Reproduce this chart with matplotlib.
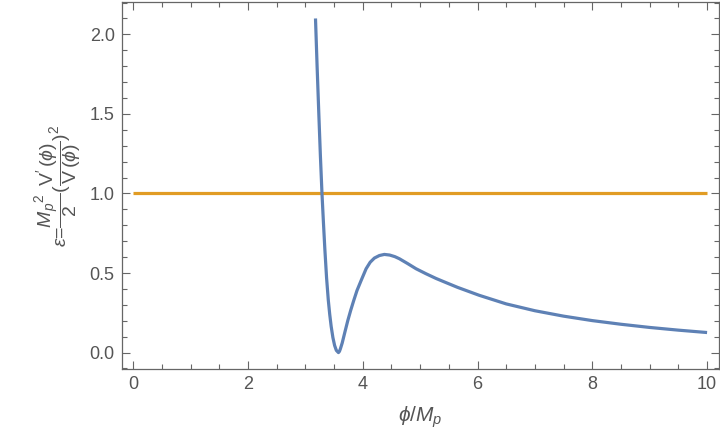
import numpy as np
import matplotlib.pyplot as plt
from matplotlib.ticker import MultipleLocator

plt.rcParams["font.family"] = ["Liberation Sans", "DejaVu Sans"]
plt.rcParams["mathtext.fontset"] = "custom"
plt.rcParams["mathtext.rm"] = "Liberation Sans"
plt.rcParams["mathtext.it"] = "Liberation Sans:italic"
plt.rcParams["mathtext.fallback"] = "stixsans"

# slow-roll parameter epsilon
phi = [3.177, 3.205, 3.235, 3.262, 3.290, 3.315, 3.340, 3.370, 3.400, 3.425,
       3.450, 3.480, 3.510, 3.540, 3.577, 3.595, 3.612, 3.642, 3.690, 3.739,
       3.790, 3.843, 3.900, 3.972, 4.059, 4.130, 4.203, 4.290, 4.377, 4.470,
       4.560, 4.638, 4.780, 4.929, 5.100, 5.277, 5.450, 5.652, 6.03, 6.5, 7.0,
       7.5, 8.0, 8.5, 9.0, 9.5, 10.0]
eps = [2.100, 1.800, 1.500, 1.240, 1.000, 0.820, 0.650, 0.470, 0.330, 0.240,
       0.165, 0.095, 0.045, 0.014, 0.0, 0.008, 0.025, 0.060, 0.130, 0.200,
       0.265, 0.327, 0.390, 0.453, 0.527, 0.568, 0.594, 0.610, 0.617, 0.613,
       0.603, 0.590, 0.560, 0.527, 0.496, 0.466, 0.440, 0.410, 0.360, 0.306,
       0.263, 0.229, 0.201, 0.178, 0.158, 0.141, 0.126]
line_x = [0, 10]
line_y = [1, 1]

gray = "#666666"

fig = plt.figure(figsize=(7.2, 4.42), dpi=100)
ax = fig.add_axes([0.169, 0.1645, 0.829, 0.8315])

ax.plot(phi, eps, color="#5E81B5", lw=2.3, solid_capstyle="butt",
        solid_joinstyle="round", zorder=3)
ax.plot(line_x, line_y, color="#E19C24", lw=2.3, solid_capstyle="butt", zorder=2)

ax.set_xlim(-0.2, 10.2)
ax.set_ylim(-0.105, 2.205)
ax.xaxis.set_major_locator(MultipleLocator(2))
ax.xaxis.set_minor_locator(MultipleLocator(0.5))
ax.yaxis.set_major_locator(MultipleLocator(0.5))
ax.yaxis.set_minor_locator(MultipleLocator(0.1))
ax.yaxis.set_major_formatter(plt.FormatStrFormatter("%.1f"))

ax.tick_params(which="both", direction="in", top=True, right=True,
               color=gray, labelcolor="#555555", labelsize=13, width=0.8)
ax.tick_params(which="major", length=5.8, pad=5)
ax.tick_params(which="minor", length=3.5)
for s in ax.spines.values():
    s.set_color(gray)
    s.set_linewidth(0.9)

ax.set_xlabel(r"$\phi/M_p$", fontsize=15, color="#555555", labelpad=8)
ax.set_ylabel(r"$\epsilon$=$\dfrac{M_p{}^2}{2}(\dfrac{\mathrm{V}^\prime\,(\phi)}{\mathrm{V}\,(\phi)})^2$",
              fontsize=14, color="#555555", labelpad=4)

fig.savefig("out.png", dpi=100)
